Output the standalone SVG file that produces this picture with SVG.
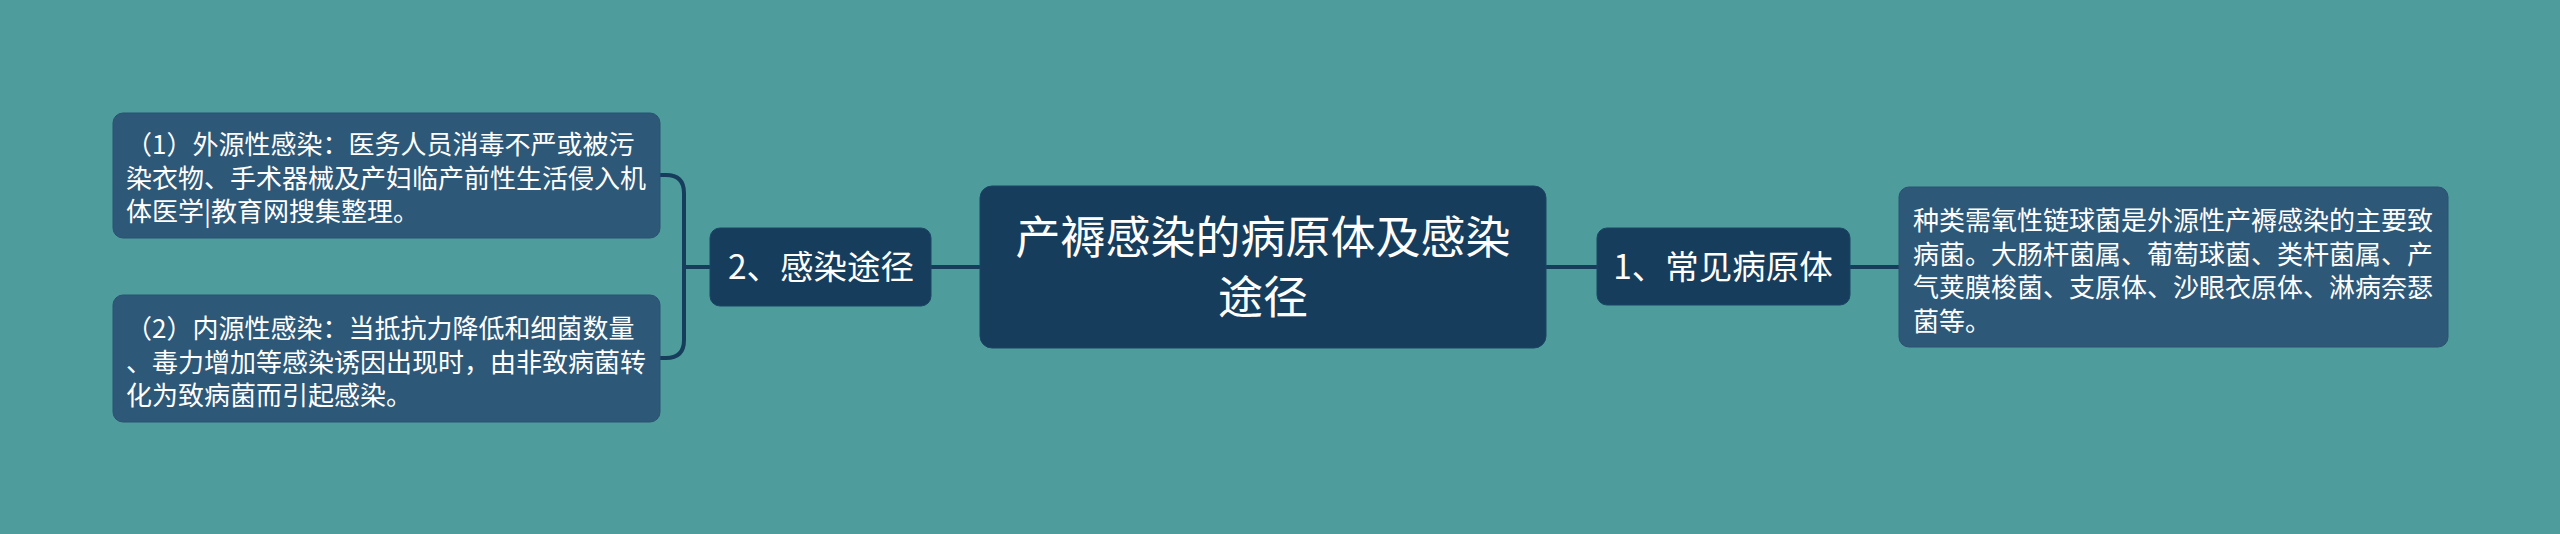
<svg xmlns="http://www.w3.org/2000/svg" width="2560" height="534" viewBox="0 0 2560 534">
<style>
.bg{fill:#4f9c9c}
.root{fill:#173d5d;stroke:#1b4565;stroke-width:1}
.sub{fill:#173d5d;stroke:#1b4565;stroke-width:1}
.leaf{fill:#2e5878;stroke:#2a5272;stroke-width:1}
.conn{fill:none;stroke:#173d5d;stroke-width:4;stroke-linecap:round;stroke-linejoin:round}
text{font-family:"Noto Sans CJK SC","Microsoft YaHei","Liberation Sans",sans-serif;fill:#ffffff}
.t-root{font-size:45px;text-anchor:middle}
.t-sub{font-size:33.5px;text-anchor:middle}
.t-leaf{font-size:26px}
</style>
<rect class="bg" x="0" y="0" width="2560" height="534"/>
<g id="connectors">
<path class="conn" d="M931,267 H980"/>
<path class="conn" d="M1545,267 H1597"/>
<path class="conn" d="M1850,267 H1899"/>
<path class="conn" d="M710,267 H684"/>
<path class="conn" d="M660,175 H666 Q684,175 684,193 V340 Q684,358 666,358 H660"/>
</g>
<g id="root">
<rect class="root" x="980" y="186" width="566" height="162" rx="12"/>
<text class="t-root" x="1263" y="254">产褥感染的病原体及感染</text>
<text class="t-root" x="1263" y="314">途径</text>
</g>
<g id="n1">
<rect class="sub" x="1597" y="228" width="253" height="77" rx="10"/>
<text class="t-sub" x="1723" y="279">1、常见病原体</text>
</g>
<g id="n1a">
<rect class="leaf" x="1899" y="187" width="549" height="160" rx="10"/>
<text class="t-leaf" x="1913" y="230">种类需氧性链球菌是外源性产褥感染的主要致</text>
<text class="t-leaf" x="1913" y="263.5">病菌。大肠杆菌属、葡萄球菌、类杆菌属、产</text>
<text class="t-leaf" x="1913" y="297">气荚膜梭菌、支原体、沙眼衣原体、淋病奈瑟</text>
<text class="t-leaf" x="1913" y="330.5">菌等。</text>
</g>
<g id="n2">
<rect class="sub" x="710" y="228" width="221" height="78" rx="10"/>
<text class="t-sub" x="821" y="279">2、感染途径</text>
</g>
<g id="n2a">
<rect class="leaf" x="113" y="113" width="547" height="125" rx="10"/>
<text class="t-leaf" x="126" y="154">（1）外源性感染：医务人员消毒不严或被污</text>
<text class="t-leaf" x="126" y="187.5">染衣物、手术器械及产妇临产前性生活侵入机</text>
<text class="t-leaf" x="126" y="221">体医学|教育网搜集整理。</text>
</g>
<g id="n2b">
<rect class="leaf" x="113" y="295" width="547" height="127" rx="10"/>
<text class="t-leaf" x="126" y="338">（2）内源性感染：当抵抗力降低和细菌数量</text>
<text class="t-leaf" x="126" y="371.5">、毒力增加等感染诱因出现时，由非致病菌转</text>
<text class="t-leaf" x="126" y="405">化为致病菌而引起感染。</text>
</g>
</svg>
